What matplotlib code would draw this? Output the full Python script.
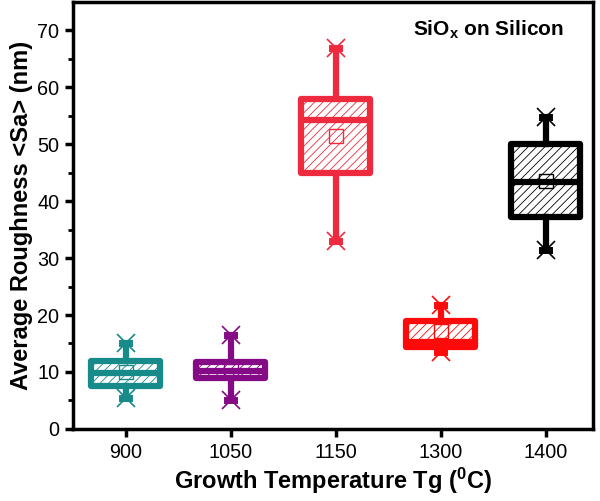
import numpy as np
import matplotlib
matplotlib.use('Agg')
from matplotlib import pyplot as plt

plt.rcParams['font.family'] = ['Liberation Sans', 'DejaVu Sans']
plt.rcParams['hatch.linewidth'] = 0.6

# data
temps = ['900', '1050', '1150', '1300', '1400']
q1 = [7.5, 8.9, 45.0, 14.4, 37.2]
q3 = [12.0, 11.8, 58.0, 19.0, 50.0]
med = [9.8, 10.2, 54.2, 15.2, 43.3]
mean = [10.0, 10.6, 51.5, 17.2, 43.5]
whis_lo = [5.5, 5.0, 33.0, 13.5, 31.5]
whis_hi = [15.0, 16.5, 67.0, 21.8, 54.8]
colors = ['#178a8a', '#850a85', '#ee2a3e', '#ff0a0a', '#000000']

fig = plt.figure(figsize=(6.0, 5.01), dpi=100)
ax = fig.add_axes([0.122, 0.144, 0.866, 0.852])

positions = np.arange(1, len(temps) + 1)
for i, pos in enumerate(positions):
    st = dict(med=med[i], q1=q1[i], q3=q3[i], whislo=whis_lo[i],
              whishi=whis_hi[i], mean=mean[i], fliers=[])
    c = colors[i]
    bp = ax.bxp([st], positions=[pos], widths=0.66, patch_artist=True,
                showmeans=True, showcaps=True, capwidths=0.07,
                boxprops=dict(facecolor='white', edgecolor=c, linewidth=4.5,
                              hatch='////'),
                medianprops=dict(color=c, linewidth=4.5),
                whiskerprops=dict(color=c, linewidth=4.5),
                capprops=dict(color=c, linewidth=5),
                meanprops=dict(marker='s', markerfacecolor='none',
                               markeredgecolor=c, markersize=10,
                               markeredgewidth=1.0))
    for p in bp['boxes']:
        p.set_joinstyle('round')
    ax.plot([pos, pos], [whis_lo[i], whis_hi[i]], linestyle='none',
            marker='x', markersize=13, markeredgewidth=1.2, color=c)

ax.set_xlim(0.5, 5.45)
ax.set_ylim(0, 75)
ax.set_xticks(positions)
ax.set_xticklabels(temps)
ax.set_yticks(np.arange(0, 71, 10))
ax.set_yticks(np.arange(5, 75, 10), minor=True)

for s in ax.spines.values():
    s.set_linewidth(2.5)
ax.tick_params(axis='both', which='major', direction='out', length=6,
               width=2.5, labelsize=14.3, pad=4)
ax.tick_params(axis='y', which='minor', direction='out', length=3.5,
               width=2)
ax.tick_params(top=False, right=False)

ax.set_xlabel('Growth Temperature Tg ($\\mathregular{^0}$C)',
              fontsize=17, fontweight='bold', labelpad=3)
ax.set_ylabel('Average Roughness <Sa> (nm)', fontsize=17,
              fontweight='bold', labelpad=3)

ax.text(0.945, 0.935, 'SiO$\\mathregular{_x}$ on Silicon', transform=ax.transAxes,
        ha='right', va='center', fontsize=15, fontweight='bold')

fig.savefig('out.png', dpi=100)
